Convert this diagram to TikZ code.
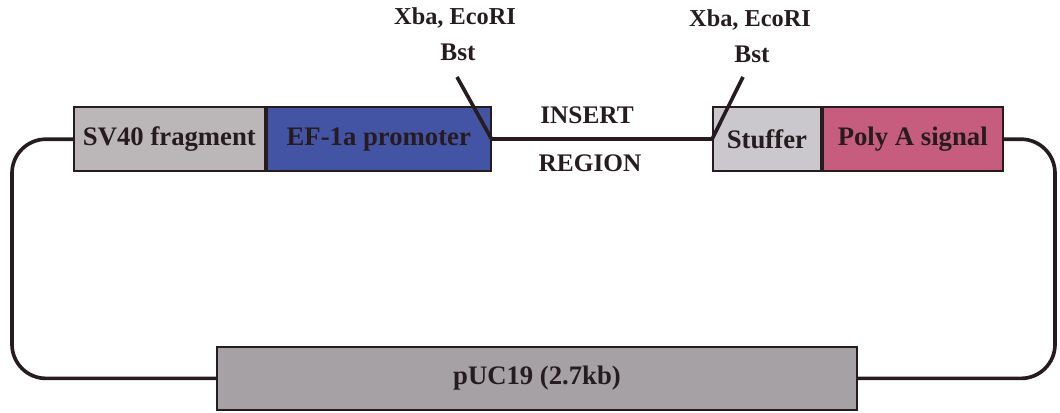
\documentclass[tikz,border=0pt]{standalone}
\usepackage{fontspec}
\setmainfont{Liberation Serif}
\usetikzlibrary{positioning}

\definecolor{svgray}{RGB}{187,182,184}
\definecolor{efblue}{RGB}{68,84,164}
\definecolor{stuffgray}{RGB}{202,199,205}
\definecolor{polypink}{RGB}{198,92,126}
\definecolor{pucgray}{RGB}{166,161,165}
\definecolor{inkdark}{RGB}{38,28,32}

\tikzset{
  part/.style={draw=inkdark, line width=1.3pt, minimum height=1.6cm, inner sep=0pt,
    text=inkdark, font=\fontsize{19}{22}\selectfont\bfseries},
  backbone/.style={draw=inkdark, line width=2.6pt},
  site/.style={text=inkdark, font=\fontsize{18}{21}\selectfont\bfseries, inner sep=1pt},
  enzyme/.style={site, font=\fontsize{17.3}{20}\selectfont\bfseries}
}

\begin{document}
\begin{tikzpicture}[line width=0.4pt]
\useasboundingbox (0,0) rectangle (26.5,10.3);

% cassette along the top
\node[part, fill=svgray, minimum width=4.775cm, anchor=west] (sv) at (1.825,6.82) {SV40 fragment};
\node[part, fill=efblue, minimum width=5.6cm, right=0pt of sv] (ef) {EF-1a promoter};
\node[part, fill=stuffgray, minimum width=2.7cm, anchor=west] (stuff) at (17.8,6.82) {Stuffer};
\node[part, fill=polypink, minimum width=4.5cm, right=0pt of stuff] (polya) {Poly A signal};

% vector backbone
\node[part, fill=pucgray, minimum width=16cm, minimum height=1.575cm] (puc) at (13.425,0.84) {pUC19 (2.7kb)};

\coordinate (lcorner) at (0.3,0.84);
\coordinate (rcorner) at (26.375,0.84);

\draw[backbone] (ef.east) -- (stuff.west);
\draw[backbone, rounded corners=0.85cm] (sv.west) -| (lcorner) -- (puc.west);
\draw[backbone, rounded corners=0.85cm] (polya.east) -| (rcorner) -- (puc.east);

% insert region
\node[site] (ins) at (14.675,7.425) {INSERT};
\node[site] (reg) at (14.75,6.225) {REGION};

% cloning sites
\coordinate (lcut) at (11.425,8.375);
\coordinate (rcut) at (18.575,8.375);
\draw[backbone] (lcut) -- (ef.east);
\draw[backbone] (rcut) -- (stuff.west);

\node[enzyme] (lenz) at (11.375,9.85) {Xba, EcoRI};
\node[site] (lbst) at (11.45,9.0) {Bst};
\node[enzyme] (renz) at (18.75,9.8) {Xba, EcoRI};
\node[site] (rbst) at (18.8,8.93) {Bst};
\end{tikzpicture}
\end{document}
